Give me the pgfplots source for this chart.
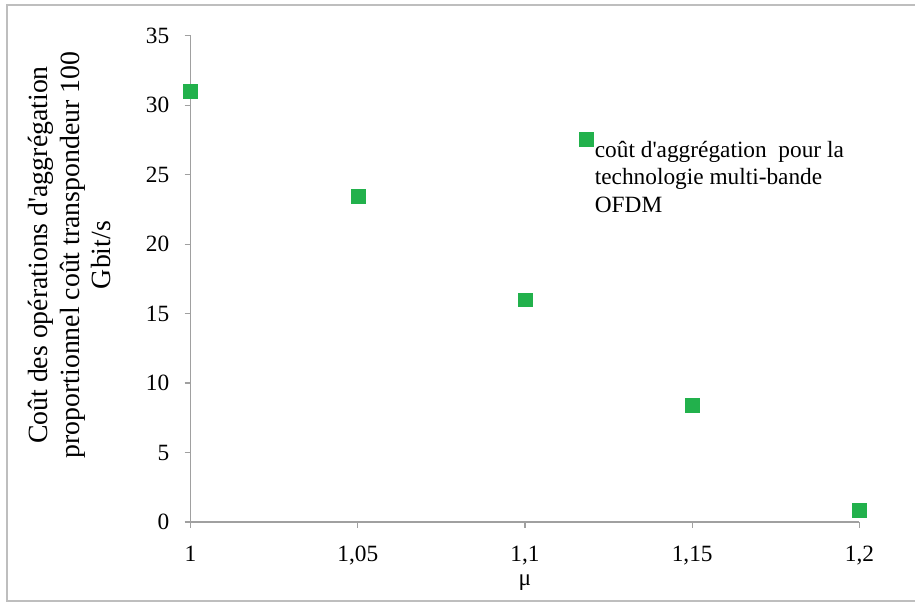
\documentclass[border=0pt]{standalone}
\usepackage{pgfplots}
\pgfplotsset{compat=1.18}
\usepackage{fontspec}
\setmainfont{Liberation Serif}
\definecolor{ptgreen}{RGB}{34,177,76}
\definecolor{axgray}{RGB}{160,160,160}
\definecolor{framegray}{RGB}{190,190,190}

\begin{document}
\begin{tikzpicture}
\begin{axis}[
    width=674pt, height=490pt,
    scale only axis,
    axis lines*=left,
    axis line style={axgray, line width=1.2pt},
    tick style={axgray, line width=1.2pt},
    tick align=outside,
    major tick length=6pt,
    xmin=1, xmax=1.2,
    ymin=0, ymax=35,
    xtick={1,1.05,1.1,1.15,1.2},
    xticklabels={1,{1,05},{1,1},{1,15},{1,2}},
    ytick={0,5,...,35},
    ticklabel style={font=\fontsize{23.5}{26}\selectfont, text=black},
    yticklabel style={xshift=-12pt},
    xticklabel style={yshift=-15pt},
    /pgf/number format/assume math mode=true,
    xlabel={μ},
    xlabel style={at={(axis description cs:0.5,-0.125)}, anchor=center,
        font=\fontsize{23.5}{26}\selectfont},
    ylabel={Coût des opérations d\textquotesingle aggrégation\\proportionnel coût transpondeur 100\\Gbit/s},
    ylabel style={at={(axis description cs:-0.181,0.549)}, anchor=center,
        align=center, font=\fontsize{28}{31.5}\selectfont},
    legend cell align=left,
    legend style={draw=none, fill=none, at={(axis description cs:0.576,0.806)},
        anchor=north west, font=\fontsize{23.5}{27.5}\selectfont,
        nodes={align=left}, cells={anchor=north west}},
    clip=false,
]
\addplot[only marks, mark=square*, mark size=7pt, color=ptgreen]
    coordinates {(1,31.0) (1.05,23.45) (1.1,16.0) (1.15,8.4) (1.2,0.85)};
\addlegendentry{coût d\textquotesingle aggrégation\ \ pour la\\technologie multi-bande\\OFDM}
\coordinate (O) at (rel axis cs:0,0);
\end{axis}
\pgfresetboundingbox
\path[shift={(O)}] (-192pt,-82pt) rectangle (724pt,526pt);
\draw[framegray, line width=2pt, shift={(O)}]
    (730pt,-80pt) -- (-185pt,-80pt) -- (-185pt,521pt) -- (730pt,521pt);
\end{tikzpicture}
\end{document}
